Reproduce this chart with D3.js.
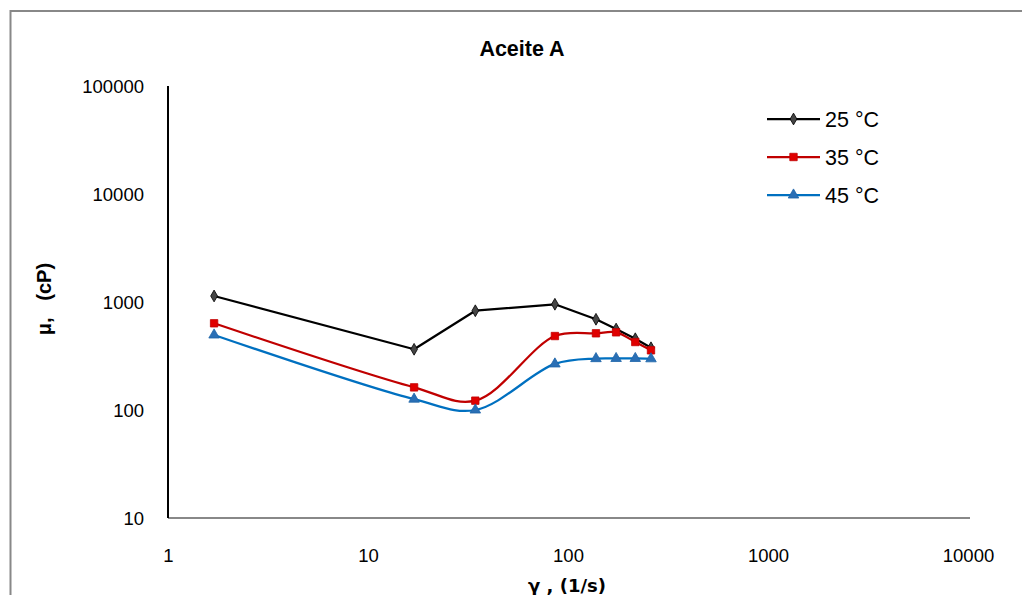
<!DOCTYPE html>
<html>
<head>
<meta charset="utf-8">
<script src="https://cdn.jsdelivr.net/npm/d3@7"></script>
<style>
html,body{margin:0;padding:0;background:#fff;}
svg{display:block;font-family:"Liberation Sans",Arial,sans-serif;}
</style>
</head>
<body>
<svg id="chart" width="1022" height="595"></svg>
<script>
const shearRate = [1.7, 17, 34.4, 86, 138, 174, 217, 260];
const mu25 = [1137, 365, 830, 953, 692, 562, 457, 377];
const mu35 = [635, 162, 122, 484, 513, 524, 426, 357];
const mu45 = [495, 126, 100, 267, 299, 300, 300, 298];
const seriesNames = ["25 °C", "35 °C", "45 °C"];
const xTicks = [1, 10, 100, 1000, 10000];
const yTicks = [10, 100, 1000, 10000, 100000];
const chartTitle = "Aceite A";
const xTitle = "γ , (1/s)";
const yTitle = "μ,   (cP)";

const svg = d3.select("#chart");
const x = d3.scaleLog().domain([1, 10000]).range([168, 968]);
const y = d3.scaleLog().domain([10, 100000]).range([518, 86]);

// outer frame
svg.append("rect").attr("x", 10.5).attr("y", 11).attr("width", 1100).attr("height", 700)
  .attr("fill", "none").attr("stroke", "#888").attr("stroke-width", 2);

// title
svg.append("text").attr("x", 522).attr("y", 56).attr("text-anchor", "middle")
  .attr("font-weight", "bold").attr("font-size", 21.5).attr("fill", "#000").text(chartTitle);

// x axis
const xAxis = d3.axisBottom(x).tickValues(xTicks).tickSize(0).tickFormat(d3.format("d"));
const gx = svg.append("g").attr("transform", "translate(0,518)").call(xAxis);
gx.select(".domain").attr("stroke", "#888").attr("stroke-width", 2).attr("d", "M168,0H970");
gx.selectAll("text").attr("font-size", 18.5).attr("fill", "#000").attr("dy", null).attr("y", 44)
  .attr("font-family", "Liberation Sans, Arial, sans-serif");

// y axis
const yAxis = d3.axisLeft(y).tickValues(yTicks).tickSize(0).tickFormat(d3.format("d"));
const gy = svg.append("g").attr("transform", "translate(168,0)").call(yAxis);
gy.select(".domain").attr("stroke", "#000").attr("stroke-width", 2).attr("d", "M0,86V518");
gy.selectAll("text").attr("font-size", 18.5).attr("fill", "#000").attr("x", -24).attr("dy", "0.35em")
  .attr("font-family", "Liberation Sans, Arial, sans-serif");

// axis titles
svg.append("text").attr("x", 567).attr("y", 592).attr("text-anchor", "middle")
  .attr("font-weight", "bold").attr("font-size", 20).attr("fill", "#000")
  .attr("font-family", "DejaVu Sans, Liberation Sans, sans-serif").attr("font-size", 18).text(xTitle);
svg.append("text").attr("transform", "translate(51,299) rotate(-90)").attr("text-anchor", "middle")
  .style("white-space", "pre").attr("font-weight", "bold").attr("font-size", 20).attr("fill", "#000").text(yTitle);

const series = [
  {name: seriesNames[0], vals: mu25, line: "#000000", fill: "#454545", stroke: "#000", sym: d3.symbolDiamond, size: 40, curve: d3.curveLinear},
  {name: seriesNames[1], vals: mu35, line: "#c00000", fill: "#e00000", stroke: "#c00000", sym: d3.symbolSquare, size: 55, curve: d3.curveCatmullRom.alpha(0.5)},
  {name: seriesNames[2], vals: mu45, line: "#0070c0", fill: "#2a6fb5", stroke: "#1d64a8", sym: d3.symbolTriangle, size: 48, curve: d3.curveCatmullRom.alpha(0.5)}
];

series.forEach(s => {
  const pts = shearRate.map((g, i) => [g, s.vals[i]]);
  const line = d3.line().x(d => x(d[0])).y(d => y(d[1])).curve(s.curve);
  svg.append("path").datum(pts).attr("d", line).attr("fill", "none")
    .attr("stroke", s.line).attr("stroke-width", 2.25).attr("stroke-linejoin", "round");
  svg.append("g").selectAll("path").data(pts).join("path")
    .attr("transform", d => `translate(${x(d[0])},${y(d[1])})`)
    .attr("d", d3.symbol().type(s.sym).size(s.size))
    .attr("fill", s.fill).attr("stroke", s.stroke).attr("stroke-width", 0.8);
});

// legend
const lg = svg.append("g");
series.forEach((s, i) => {
  const ly = 119 + i * 38;
  lg.append("line").attr("x1", 767).attr("x2", 820).attr("y1", ly).attr("y2", ly)
    .attr("stroke", s.line).attr("stroke-width", 2.25);
  lg.append("path").attr("transform", `translate(793.5,${ly})`)
    .attr("d", d3.symbol().type(s.sym).size(s.size))
    .attr("fill", s.fill).attr("stroke", s.stroke).attr("stroke-width", 0.8);
  lg.append("text").attr("x", 825).attr("y", ly + 7.5).attr("font-size", 21.5).attr("fill", "#000").text(s.name);
});
</script>
</body>
</html>
